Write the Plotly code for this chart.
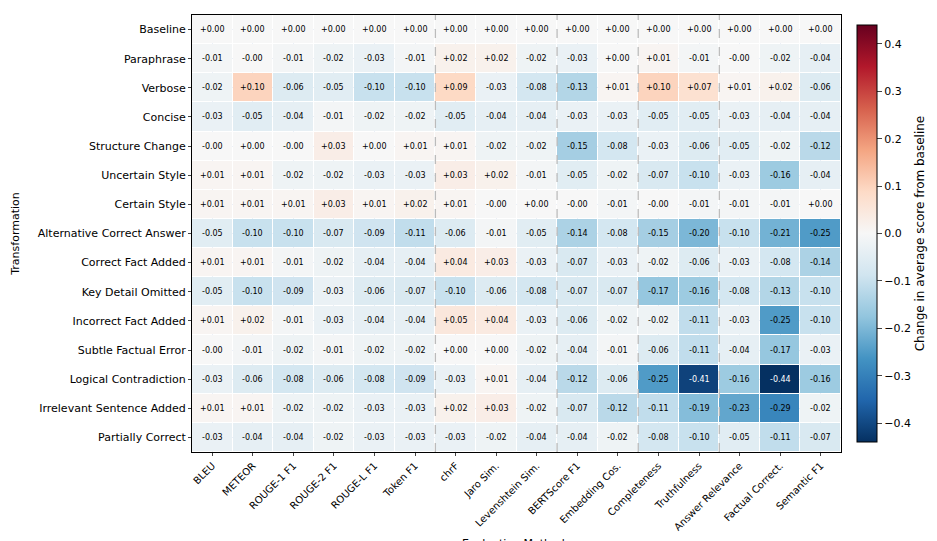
import plotly.graph_objects as go

methods = ["BLEU", "METEOR", "ROUGE-1 F1", "ROUGE-2 F1", "ROUGE-L F1", "Token F1",
           "chrF", "Jaro Sim.", "Levenshtein Sim.", "BERTScore F1", "Embedding Cos.",
           "Completeness", "Truthfulness", "Answer Relevance", "Factual Correct.", "Semantic F1"]

transforms = ["Baseline", "Paraphrase", "Verbose", "Concise", "Structure Change",
              "Uncertain Style", "Certain Style", "Alternative Correct Answer",
              "Correct Fact Added", "Key Detail Omitted", "Incorrect Fact Added",
              "Subtle Factual Error", "Logical Contradiction", "Irrelevant Sentence Added",
              "Partially Correct"]

baseline = [0.00] * 16
paraphrase = [-0.01, -0.00, -0.01, -0.02, -0.03, -0.01, 0.02, 0.02, -0.02, -0.03, 0.00, 0.01, -0.01, -0.00, -0.02, -0.04]
verbose = [-0.02, 0.10, -0.06, -0.05, -0.10, -0.10, 0.09, -0.03, -0.08, -0.13, 0.01, 0.10, 0.07, 0.01, 0.02, -0.06]
concise = [-0.03, -0.05, -0.04, -0.01, -0.02, -0.02, -0.05, -0.04, -0.04, -0.03, -0.03, -0.05, -0.05, -0.03, -0.04, -0.04]
structure = [-0.00, 0.00, -0.00, 0.03, 0.00, 0.01, 0.01, -0.02, -0.02, -0.15, -0.08, -0.03, -0.06, -0.05, -0.02, -0.12]
uncertain = [0.01, 0.01, -0.02, -0.02, -0.03, -0.03, 0.03, 0.02, -0.01, -0.05, -0.02, -0.07, -0.10, -0.03, -0.16, -0.04]
certain = [0.01, 0.01, 0.01, 0.03, 0.01, 0.02, 0.01, -0.00, 0.00, -0.00, -0.01, -0.00, -0.01, -0.01, -0.01, 0.00]
alternative = [-0.05, -0.10, -0.10, -0.07, -0.09, -0.11, -0.06, -0.01, -0.05, -0.14, -0.08, -0.15, -0.20, -0.10, -0.21, -0.25]
fact_added = [0.01, 0.01, -0.01, -0.02, -0.04, -0.04, 0.04, 0.03, -0.03, -0.07, -0.03, -0.02, -0.06, -0.03, -0.08, -0.14]
omitted = [-0.05, -0.10, -0.09, -0.03, -0.06, -0.07, -0.10, -0.06, -0.08, -0.07, -0.07, -0.17, -0.16, -0.08, -0.13, -0.10]
incorrect = [0.01, 0.02, -0.01, -0.03, -0.04, -0.04, 0.05, 0.04, -0.03, -0.06, -0.02, -0.02, -0.11, -0.03, -0.25, -0.10]
subtle = [-0.00, -0.01, -0.02, -0.01, -0.02, -0.02, 0.00, 0.00, -0.02, -0.04, -0.01, -0.06, -0.11, -0.04, -0.17, -0.03]
contradiction = [-0.03, -0.06, -0.08, -0.06, -0.08, -0.09, -0.03, 0.01, -0.04, -0.12, -0.06, -0.25, -0.41, -0.16, -0.44, -0.16]
irrelevant = [0.01, 0.01, -0.02, -0.02, -0.03, -0.03, 0.02, 0.03, -0.02, -0.07, -0.12, -0.11, -0.19, -0.23, -0.29, -0.02]
partial = [-0.03, -0.04, -0.04, -0.02, -0.03, -0.03, -0.03, -0.02, -0.04, -0.04, -0.02, -0.08, -0.10, -0.05, -0.11, -0.07]

z = [baseline, paraphrase, verbose, concise, structure, uncertain, certain, alternative,
     fact_added, omitted, incorrect, subtle, contradiction, irrelevant, partial]

# group boundaries (after these columns)
group_ends = ["Token F1", "Levenshtein Sim.", "Embedding Cos.", "Truthfulness"]

rdbu_r = ["#053061", "#2166ac", "#4393c3", "#92c5de", "#d1e5f0", "#f7f7f7",
          "#fddbc7", "#f4a582", "#d6604d", "#b2182b", "#67001f"]
scale = [[i / 10, c] for i, c in enumerate(rdbu_r)]

fig = go.Figure(go.Heatmap(
    z=z, x=methods, y=transforms, colorscale=scale, zmin=-0.44, zmax=0.44,
    xgap=1, ygap=1,
    colorbar=dict(
        title=dict(text="Change in average score from baseline", side="right",
                   font=dict(size=12)),
        tickvals=[-0.4, -0.3, -0.2, -0.1, 0, 0.1, 0.2, 0.3, 0.4],
        ticktext=["−0.4", "−0.3", "−0.2", "−0.1", "0.0", "0.1", "0.2", "0.3", "0.4"],
        thickness=20, len=1.0, y=0.5, yanchor="middle", x=1.01,
        outlinecolor="black", outlinewidth=1, ticks="outside",
        tickfont=dict(size=11),
    ),
))

for r, row in enumerate(z):
    for c, v in enumerate(row):
        fig.add_annotation(
            x=methods[c], y=transforms[r], text=f"{v:+.2f}", showarrow=False,
            font=dict(size=8, color="white" if abs(v) > 0.35 else "black"),
        )

for name in group_ends:
    i = methods.index(name)
    fig.add_vline(x=i + 0.5, line=dict(color="#bbbbbb", width=1.3, dash="dash"))

fig.add_annotation(text="Evaluation Methods", xref="paper", yref="paper",
                   x=0.5, y=-0.19, yanchor="top", showarrow=False,
                   font=dict(size=11))

fig.update_xaxes(tickangle=-45, tickfont=dict(size=10), showline=True, mirror=True,
                 linecolor="black", ticks="outside", ticklen=3, automargin=False)
fig.update_yaxes(title=dict(text="Transformation", font=dict(size=11)),
                 autorange="reversed", tickfont=dict(size=11), showline=True,
                 mirror=True, linecolor="black", ticks="outside", ticklen=3)

fig.update_layout(
    width=937, height=541, template="plotly_white",
    font=dict(family="DejaVu Sans", color="black"),
    plot_bgcolor="white", paper_bgcolor="white",
    margin=dict(l=177, r=60, t=7, b=97),
)

fig.write_html("out.html")
